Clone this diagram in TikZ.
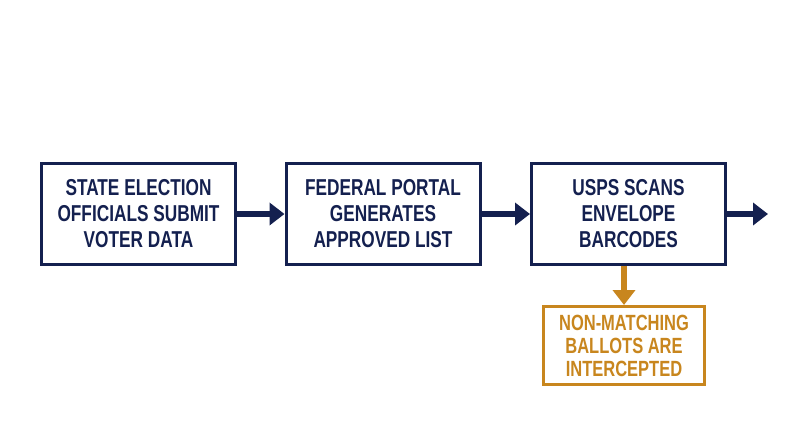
\documentclass[tikz,border=0pt]{standalone}
\usepackage{fontspec}
\setmainfont{Liberation Sans}[FakeStretch=0.75]
\usetikzlibrary{arrows.meta}
\definecolor{navy}{HTML}{14204F}
\definecolor{gold}{HTML}{C8861E}
\begin{document}
\begin{tikzpicture}[x=1pt,y=-1pt,
  box/.style={draw=navy,line width=3pt,minimum width=194pt,minimum height=101pt,align=center,text=navy,font=\bfseries\fontsize{23}{26}\selectfont,inner sep=0pt},
  obox/.style={box,draw=gold,text=gold,minimum width=161pt,minimum height=78pt,font=\bfseries\fontsize{22}{23}\selectfont},
  arr/.style={draw=navy,line width=6pt,-{Triangle[length=15pt,width=22pt]}}]
\useasboundingbox (0,0) rectangle (800,447);
\node[box] (a) at (138.5,214) {STATE ELECTION\\OFFICIALS SUBMIT\\VOTER DATA};
\node[box] (b) at (383,214) {FEDERAL PORTAL\\GENERATES\\APPROVED LIST};
\node[box] (c) at (628.5,214) {USPS SCANS\\ENVELOPE\\BARCODES};
\node[obox] (d) at (624,345.5) {NON-MATCHING\\BALLOTS ARE\\INTERCEPTED};
\coordinate (e) at (768,214);
\draw[arr] (a) -- (b);
\draw[arr] (b) -- (c);
\draw[arr] (c) -- (e);
\draw[arr,draw=gold] (c.south -| d.north) -- (d.north);
\end{tikzpicture}
\end{document}
